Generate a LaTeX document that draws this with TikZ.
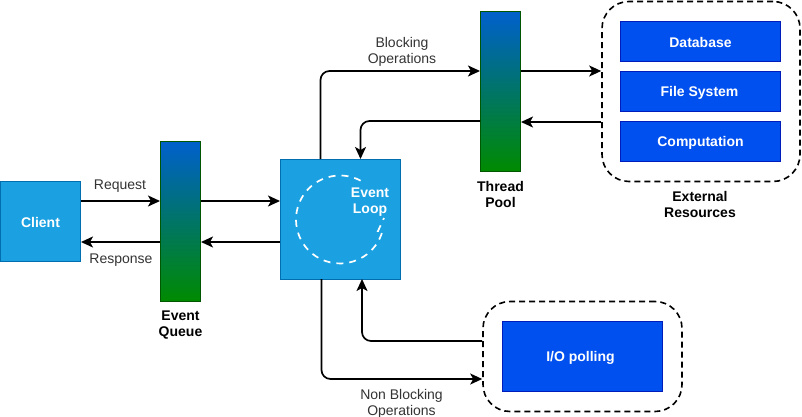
\documentclass[tikz,border=0pt]{standalone}
\usepackage{fontspec}
\setmainfont{Liberation Sans}
\usetikzlibrary{arrows.meta}
\definecolor{lightblue}{HTML}{1BA1E2}
\definecolor{lightblueline}{HTML}{006EAF}
\definecolor{cobalt}{HTML}{0050EF}
\definecolor{cobaltline}{HTML}{001DBC}
\definecolor{labelgray}{HTML}{333333}
\definecolor{bartop}{HTML}{0060CC}
\definecolor{barbot}{HTML}{008A00}
\definecolor{barline}{HTML}{005700}
\newcommand{\lowtext}[1]{\raisebox{-1pt}[\height][\depth]{#1}}
\tikzset{
  x=1pt,y=-1pt,
  every node/.style={font=\fontsize{14}{16}\selectfont,inner sep=0pt,align=center},
  bluebox/.style={draw=lightblueline,fill=lightblue,text=white,line width=1pt,font=\fontsize{14}{16}\selectfont\bfseries},
  cobaltbox/.style={draw=cobaltline,fill=cobalt,text=white,line width=1pt,minimum width=160pt,font=\fontsize{14}{16}\selectfont\bfseries},
  gradbar/.style={draw=barline,top color=bartop,bottom color=barbot,line width=1pt,minimum width=40pt,minimum height=160pt},
  group/.style={draw=black,dash pattern=on 6pt off 4pt,line width=1.6pt,rounded corners=27pt},
  conn/.style={draw=black,line width=1.7pt,rounded corners=9pt,-{Stealth[length=12pt,width=11pt,inset=3pt]}},
  caption/.style={text=labelgray},
  boldcaption/.style={text=black,font=\fontsize{14}{16}\selectfont\bfseries},
}
\begin{document}
\begin{tikzpicture}
\useasboundingbox (0,0) rectangle (802,417);

\node[bluebox,minimum width=80pt,minimum height=80pt] (client) at (40.5,221.5) {\lowtext{Client}};
\node[gradbar] (queue) at (180.5,221.5) {};
\node[bluebox,minimum width=120pt,minimum height=120pt] (loop) at (340.5,219.5) {};
\node[gradbar] (pool) at (500.5,91.5) {};

\node[group,minimum width=198pt,minimum height=180pt] (ext) at (701,91.5) {};
\node[cobaltbox,minimum height=40pt] (db) at (700.5,41.5) {\lowtext{Database}};
\node[cobaltbox,minimum height=40pt] (fs) at (700.5,91.5) {\hspace{-2pt}\lowtext{File System}};
\node[cobaltbox,minimum height=40pt] (comp) at (700.5,141.5) {\lowtext{Computation}};

\node[group,minimum width=199pt,minimum height=110pt] (iog) at (582.5,356.5) {};
\node[cobaltbox,minimum height=70pt] (io) at (582.5,356.5) {\hspace{-4pt}\lowtext{I/O polling}};

\draw[white,line width=1.7pt,dash pattern=on 7pt off 6pt] (340,219.5) ++(62:44pt) arc[start angle=62,end angle=345,radius=44pt] -- (378,231) -- (384,218);
\node[text=white,font=\fontsize{14}{16}\selectfont\bfseries] (looplabel) at (370,202) {Event\\Loop};

\draw[conn] (client.east|-0,201) -- (queue.west|-0,201);
\draw[conn] (queue.west|-0,242) -- (client.east|-0,242);
\draw[conn] (queue.east|-0,201) -- (loop.west|-0,201);
\draw[conn] (loop.west|-0,242) -- (queue.east|-0,242);
\draw[conn] (320.5,159) |- (pool.west|-0,71);
\draw[conn] (pool.west|-0,121) -| (360.5,159);
\draw[conn] (pool.east|-0,71) -- (ext.west|-0,71);
\draw[conn] (ext.west|-0,122) -- (pool.east|-0,122);
\draw[conn] (321.5,279) |- (iog.west|-0,379);
\draw[conn] (iog.west|-0,341) -| (362,279);

\node[caption] (req) at (120,186.5) {Request};
\node[caption] (resp) at (121,260) {Response};
\node[caption] (blk) at (402,51.5) {Blocking\\Operations};
\node[caption] (nblk) at (401.5,403.5) {Non Blocking\\Operations};
\node[boldcaption] (qcap) at (180.5,325) {Event\\Queue};
\node[boldcaption] (pcap) at (500.5,194) {Thread\\Pool};
\node[boldcaption] (ecap) at (700,204.5) {External\\Resources};
\end{tikzpicture}
\end{document}
